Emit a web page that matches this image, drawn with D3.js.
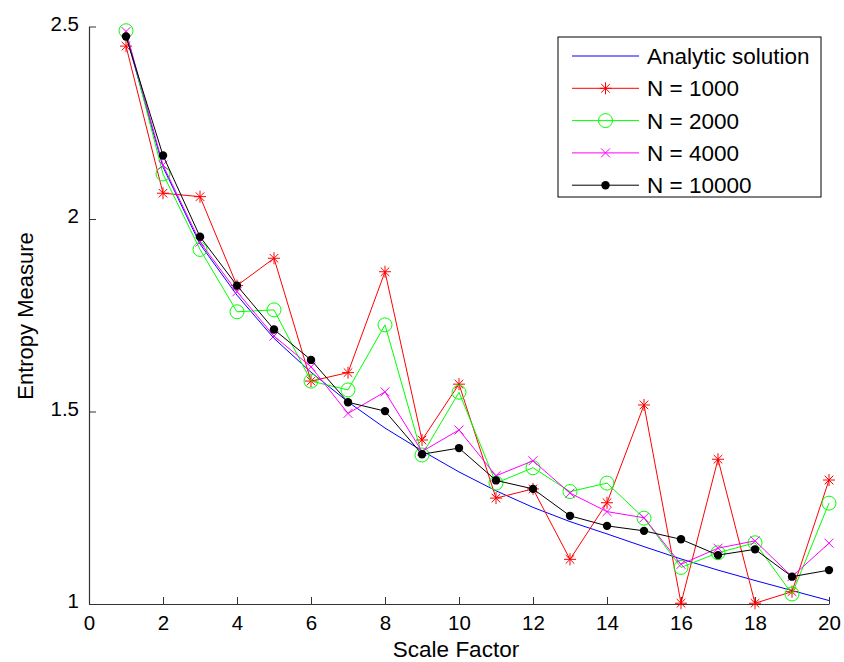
<!DOCTYPE html>
<html><head><meta charset="utf-8">
<script src="https://cdn.jsdelivr.net/npm/d3@7"></script>
<style>
html,body{margin:0;padding:0;background:#fff;}
text{font-family:"Liberation Sans",Arial,sans-serif;fill:#000;}
</style></head>
<body><svg id="chart" width="844" height="662"></svg>
<script>
const scaleFactors = [1,2,3,4,5,6,7,8,9,10,11,12,13,14,15,16,17,18,19,20];
const analytic = [2.478,2.135,1.935,1.802,1.690,1.602,1.525,1.457,1.398,1.343,1.294,1.251,1.214,1.182,1.149,1.117,1.088,1.061,1.035,1.009];
const n1000 = [2.449,2.067,2.058,1.827,1.898,1.579,1.601,1.863,1.426,1.571,1.275,1.299,1.116,1.263,1.517,1.002,1.376,1.002,1.032,1.322];
const n2000 = [2.489,2.117,1.921,1.759,1.764,1.579,1.556,1.725,1.387,1.550,1.314,1.354,1.292,1.314,1.223,1.095,1.133,1.159,1.026,1.262];
const n4000 = [2.487,2.140,1.940,1.811,1.696,1.616,1.495,1.551,1.396,1.452,1.333,1.372,1.288,1.240,1.224,1.103,1.145,1.164,1.071,1.158];
const n10000 = [2.474,2.165,1.954,1.827,1.713,1.634,1.524,1.501,1.389,1.405,1.321,1.299,1.229,1.203,1.190,1.168,1.127,1.142,1.071,1.088];
const xTicks = [0,2,4,6,8,10,12,14,16,18,20];
const yTicks = [1,1.5,2,2.5];
const yTickLabels = ["1","1.5","2","2.5"];
const seriesNames = ["Analytic solution","N = 1000","N = 2000","N = 4000","N = 10000"];
const seriesColors = ["#0000ff","#ff0000","#00ff00","#ff00ff","#000000"];
const seriesMarkers = ["none","star","circle","cross","dot"];
const seriesData = [analytic,n1000,n2000,n4000,n10000];

const svg = d3.select("#chart");
const x = d3.scaleLinear().domain([0,20]).range([89,829]);
const y = d3.scaleLinear().domain([1,2.5]).range([604,26.5]);

// axes
const xAxis = d3.axisBottom(x).tickValues(xTicks).tickSize(-7).tickPadding(10).tickSizeOuter(0);
const gx = svg.append("g").attr("transform","translate(0,604)").call(xAxis);
const yAxis = d3.axisLeft(y).tickValues(yTicks).tickFormat((d,i)=>yTickLabels[i]).tickSize(-7).tickPadding(10).tickSizeOuter(0);
const gy = svg.append("g").attr("transform","translate(89,0)").call(yAxis);
[gx,gy].forEach(g=>{
  g.select(".domain").attr("stroke","#333").attr("stroke-width",1.2);
  g.selectAll(".tick line").attr("stroke","#333");
  g.selectAll(".tick text").attr("font-size",20.5).attr("font-family","Liberation Sans, Arial, sans-serif").attr("fill","#000");
});
gx.selectAll(".tick text").attr("dy","0.71em").attr("y",11);
gy.selectAll(".tick text").attr("dy","0.32em").attr("x",-10).attr("transform","translate(0,-3)");

svg.append("text").attr("x",456).attr("y",657).attr("text-anchor","middle").attr("font-size",22.5).text("Scale Factor");
svg.append("text").attr("transform","translate(33,316) rotate(-90)").attr("text-anchor","middle").attr("font-size",22).text("Entropy Measure");

function drawMarker(g, type, cx, cy, color){
  if(type==="star"){
    const r=6, d=4.3;
    const p=`M${cx-r},${cy}L${cx+r},${cy}M${cx},${cy-r}L${cx},${cy+r}M${cx-d},${cy-d}L${cx+d},${cy+d}M${cx-d},${cy+d}L${cx+d},${cy-d}`;
    g.append("path").attr("d",p).attr("stroke",color).attr("stroke-width",1).attr("fill","none");
  } else if(type==="circle"){
    g.append("circle").attr("cx",cx).attr("cy",cy).attr("r",7).attr("stroke",color).attr("stroke-width",1).attr("fill","none");
  } else if(type==="cross"){
    const d=4.5;
    g.append("path").attr("d",`M${cx-d},${cy-d}L${cx+d},${cy+d}M${cx-d},${cy+d}L${cx+d},${cy-d}`).attr("stroke",color).attr("stroke-width",1).attr("fill","none");
  } else if(type==="dot"){
    g.append("circle").attr("cx",cx).attr("cy",cy).attr("r",4.2).attr("fill",color);
  }
}

const line = d3.line().x((d,i)=>x(scaleFactors[i])).y(d=>y(d));
seriesData.forEach((vals,si)=>{
  const g = svg.append("g");
  g.append("path").attr("d",line(vals)).attr("fill","none").attr("stroke",seriesColors[si]).attr("stroke-width",1);
  vals.forEach((v,i)=>drawMarker(g, seriesMarkers[si], x(scaleFactors[i]), y(v), seriesColors[si]));
});

// legend
const lg = svg.append("g");
lg.append("rect").attr("x",558).attr("y",37).attr("width",263).attr("height",160).attr("fill","#fff").attr("stroke","#000").attr("stroke-width",1);
seriesNames.forEach((name,i)=>{
  const ly = 56 + i*32.3;
  lg.append("line").attr("x1",572).attr("x2",639).attr("y1",ly).attr("y2",ly).attr("stroke",seriesColors[i]).attr("stroke-width",1);
  drawMarker(lg, seriesMarkers[i], 605.5, ly, seriesColors[i]);
  lg.append("text").attr("x",647).attr("y",ly+8).attr("font-size",22.5).text(name);
});
</script></body></html>
